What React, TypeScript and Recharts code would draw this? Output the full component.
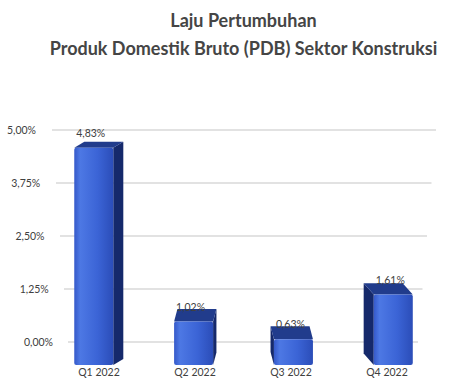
import { Bar, BarChart, CartesianGrid, LabelList, XAxis, YAxis } from 'recharts';

const categories = ['Q1 2022', 'Q2 2022', 'Q3 2022', 'Q4 2022'];
const growth = [4.83, 1.02, 0.63, 1.61];
const yTicks = [0, 1.25, 2.5, 3.75, 5];

const data = categories.map((name, i) => ({ name, value: growth[i] }));

const VANISH_X = 243;
const fmt = (v: number) => v.toFixed(2).replace('.', ',') + '%';

// fake 3D geometry: bars sit a bit lower and grow slightly with perspective
const geom = (x: number, y: number, width: number, height: number) => {
  const cx = x + width / 2;
  const shift = (cx - VANISH_X) * 0.04;
  const left = x + shift;
  const right = x + width + shift;
  const baseY = y + height;
  const bottom = baseY + 23;
  const top = baseY + 26 - 1.075 * height;
  const depth = 6 + (top - 148) * 0.037;
  const side = (VANISH_X - cx) * 0.07; // >0: side face visible on the right
  return { cx: cx + shift, left, right, bottom, top, depth, side };
};

const Bar3D = (props: any) => {
  const { x, y, width, height } = props;
  const g = geom(x, y, width, height);
  const topFace = `${g.left},${g.top} ${g.right},${g.top} ${g.right + g.side},${g.top - g.depth} ${g.left + g.side},${g.top - g.depth}`;
  const sideX = g.side > 0 ? g.right : g.left;
  const sideFace = `${sideX},${g.top} ${sideX + g.side},${g.top - g.depth} ${sideX + g.side},${g.bottom - g.depth} ${sideX},${g.bottom}`;
  return (
    <g>
      <polygon points={sideFace} fill="#15296b" />
      <polygon points={topFace} fill="#213c8c" />
      <rect
        x={g.left}
        y={g.top}
        width={g.right - g.left}
        height={g.bottom - g.top}
        rx={2}
        fill="url(#frontGrad)"
      />
    </g>
  );
};

const ValueLabel = (props: any) => {
  const { x, y, width, height, value } = props;
  const g = geom(x, y, width, height);
  return (
    <text
      x={g.cx - 3}
      y={g.top - 15}
      dy={4}
      textAnchor="middle"
      fontSize={10.5}
      fill="#404040"
      fontFamily="Lato, sans-serif"
    >
      {fmt(value)}
    </text>
  );
};

const YTick = (props: any) => {
  const { y, payload } = props;
  const end = 53 - payload.value * 3.4;
  return (
    <text x={end} y={y} dy={4} textAnchor="end" fontSize={10.5} fill="#404040" fontFamily="Lato, sans-serif">
      {fmt(payload.value)}
    </text>
  );
};

const XTick = (props: any) => {
  const { x, y, payload } = props;
  return (
    <text x={x} y={y} dy={26} textAnchor="middle" fontSize={10.5} fill="#404040" fontFamily="Lato, sans-serif">
      {payload.value}
    </text>
  );
};

const GridLine = (props: any) => {
  const { y1 } = props;
  const t = (y1 - 130) / 212;
  return <line x1={52 + t * 16} x2={436 - t * 18} y1={y1} y2={y1} stroke="#d9d9d9" strokeWidth={1.5} />;
};

export default function App() {
  return (
    <div
      style={{
        position: 'absolute',
        left: 0,
        top: 0,
        width: 457,
        height: 384,
        background: '#fff',
        fontFamily: 'Lato, sans-serif',
      }}
    >
      <div
        style={{
          position: 'absolute',
          left: 0,
          top: 6,
          width: 487,
          textAlign: 'center',
          fontWeight: 700,
          fontSize: 18,
          lineHeight: '28px',
          color: '#454545',
        }}
      >
        Laju Pertumbuhan
        <br />
        Produk Domestik Bruto (PDB) Sektor Konstruksi
      </div>
      <BarChart
        width={457}
        height={384}
        data={data}
        margin={{ top: 130, right: 22, bottom: 12, left: 0 }}
        barSize={39}
      >
        <defs>
          <linearGradient id="frontGrad" x1="0" y1="0" x2="1" y2="0">
            <stop offset="0%" stopColor="#3559c9" />
            <stop offset="15%" stopColor="#4d78e4" />
            <stop offset="60%" stopColor="#3b64d6" />
            <stop offset="100%" stopColor="#2b4db8" />
          </linearGradient>
        </defs>
        <CartesianGrid vertical={false} horizontal={<GridLine />} />
        <XAxis dataKey="name" axisLine={false} tickLine={false} height={30} tick={<XTick />} />
        <YAxis
          domain={[0, 5]}
          ticks={yTicks}
          axisLine={false}
          tickLine={false}
          width={51}
          tick={<YTick />}
        />
        <Bar dataKey="value" shape={<Bar3D />} isAnimationActive={false}>
          <LabelList dataKey="value" content={<ValueLabel />} />
        </Bar>
      </BarChart>
    </div>
  );
}
